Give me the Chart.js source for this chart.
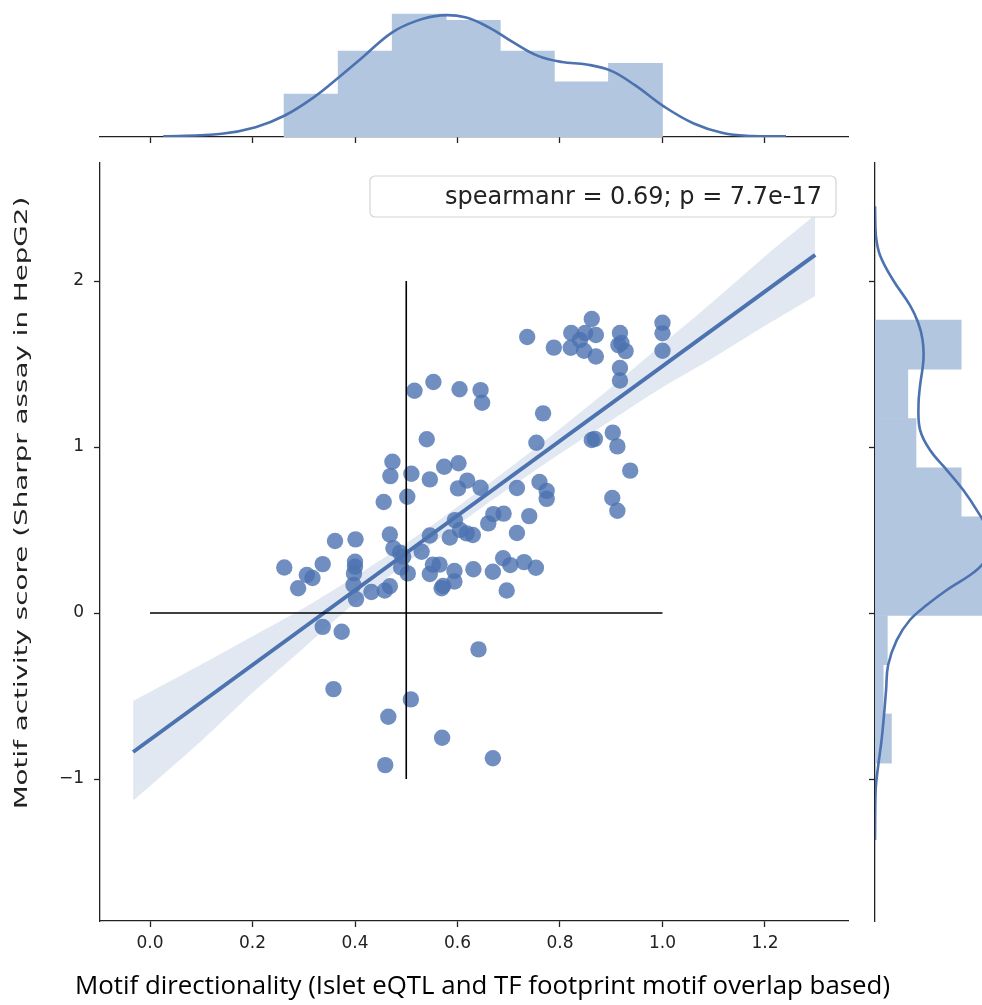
<!DOCTYPE html>
<html><head><meta charset="utf-8">
<script src="https://cdn.jsdelivr.net/npm/chart.js@4.4.1/dist/chart.umd.min.js"></script>
<style>
html,body{margin:0;padding:0;background:#fff;overflow:hidden;width:982px;height:1005px;}
canvas{position:absolute;}
#topc{left:0;top:0;}
#mainc{left:0;top:0;}
#rightc{left:860px;top:0;}
</style></head><body>
<canvas id="topc" width="982" height="150"></canvas>
<canvas id="mainc" width="982" height="1005"></canvas>
<canvas id="rightc" width="150" height="1005"></canvas>
<script>
// ---------- data ----------
const xTicks = [0, 0.2, 0.4, 0.6, 0.8, 1.0, 1.2];
const xTickLabels = ['0.0', '0.2', '0.4', '0.6', '0.8', '1.0', '1.2'];
const yTicks = [-1, 0, 1, 2];
const yTickLabels = ['\u22121', '0', '1', '2'];

const xVals = [0.736,0.788,0.822,0.821,0.839,0.849,0.862,0.870,0.847,0.870,0.917,0.914,0.928,0.920,0.917,0.917,1.0,1.0,1.0,
  0.516,0.553,0.604,0.645,0.648,0.767,0.540,0.754,0.862,0.868,0.903,0.912,0.937,0.902,0.912,
  0.473,0.469,0.510,0.546,0.574,0.602,0.601,0.619,0.645,0.716,0.760,0.774,0.774,0.740,0.456,0.502,0.690,0.670,
  0.716,0.660,0.595,0.605,0.618,0.630,0.585,0.546,0.468,0.475,0.488,0.494,0.530,0.361,0.401,0.400,0.400,0.398,
  0.397,0.402,0.432,0.458,0.468,0.503,0.490,0.262,0.306,0.317,0.337,0.289,0.552,0.565,0.546,0.594,0.594,0.572,
  0.569,0.631,0.669,0.689,0.703,0.730,0.753,0.696,
  0.337,0.374,0.641,0.358,0.509,0.465,0.570,0.459,0.669];
const yVals = [1.663,1.599,1.687,1.598,1.645,1.687,1.771,1.675,1.580,1.545,1.687,1.614,1.578,1.627,1.476,1.401,1.749,1.685,1.580,
  1.339,1.392,1.348,1.343,1.267,1.203,1.047,1.026,1.042,1.049,1.087,1.004,0.858,0.693,0.616,
  0.911,0.825,0.839,0.805,0.881,0.902,0.751,0.798,0.755,0.753,0.789,0.736,0.688,0.584,0.669,0.701,0.599,0.596,
  0.482,0.540,0.560,0.500,0.480,0.470,0.455,0.467,0.473,0.390,0.364,0.340,0.369,0.434,0.444,0.309,0.279,0.239,
  0.169,0.084,0.127,0.136,0.161,0.239,0.274,0.274,0.229,0.211,0.295,0.149,0.292,0.292,0.235,0.253,0.190,0.163,
  0.149,0.264,0.249,0.330,0.289,0.307,0.273,0.136,
  -0.083,-0.113,-0.219,-0.458,-0.520,-0.625,-0.751,-0.916,-0.875];

const regX = [-0.033, 1.298];
const regY = [-0.837, 2.157];
const bandX = [-0.033, 0.1, 0.2, 0.3, 0.4, 0.5, 0.6, 0.7, 0.8, 0.9, 1.0, 1.1, 1.2, 1.298];
const bandUpper = [-0.53, -0.31, -0.14, 0.03, 0.22, 0.42, 0.64, 0.87, 1.11, 1.36, 1.62, 1.88, 2.15, 2.40];
const bandLower = [-1.13, -0.77, -0.48, -0.21, 0.06, 0.30, 0.53, 0.75, 0.96, 1.16, 1.36, 1.54, 1.73, 1.91];

const hLineX = [0, 1], hLineY = [0, 0];
const vLineX = [0.5, 0.5], vLineY = [-1, 2];

const topBinCenters = [0.3143, 0.4198, 0.5253, 0.6308, 0.7363, 0.8418, 0.9473];
const topBinCounts = [7, 14, 20, 19, 14, 9, 12];
const topKdeX = [0.026,0.14,0.206,0.263,0.32,0.368,0.415,0.472,0.52,0.567,0.615,0.662,0.709,0.757,0.804,0.852,0.899,0.947,1.004,1.061,1.118,1.175,1.241];
const topKdeY = [0.1,0.54,1.6,3.5,6.5,9.7,13,17,18.9,19.8,19.5,17.8,15.4,13.2,12.2,11.8,10.8,8.4,4.9,2.2,0.65,0.16,0.1];

const rightBinCenters = [-0.756, -0.459, -0.163, 0.134, 0.431, 0.727, 1.024, 1.320, 1.617];
const rightBinCounts = [4, 2, 3, 27, 30, 21, 10, 8, 21];
const rightKdeY = [2.45,2.277,2.157,2.006,1.855,1.75,1.645,1.524,1.373,1.253,1.102,0.982,0.861,0.741,0.62,0.5,0.38,0.289,0.229,0.139,0.048,-0.042,-0.163,-0.313,-0.464,-0.614,-0.765,-0.916,-1.066,-1.367];
const rightKdeX = [0,0.2,1.2,4.4,8.5,10.5,11.6,11.8,11.0,10.6,11.0,13.4,17.5,21.5,24.8,27.5,28.5,26,23.2,17.5,12.6,8.5,5.3,3.2,2.7,2.2,1.6,0.8,0.15,0];

const statText = 'spearmanr = 0.69; p = 7.7e-17';
const xTitle = 'Motif directionality (Islet eQTL and TF footprint motif overlap based)';
const yTitle = 'Motif activity score (Sharpr assay in HepG2)';

// ---------- styling ----------
const BLUE = '#4c72b0';
const DARK = '#222222';
const HIST = 'rgb(178,198,223)';
const X_MIN = -0.0976, X_MAX = 1.362;
const Y_MIN = -1.855, Y_MAX = 2.711;
Chart.defaults.font.family = 'DejaVu Sans';
Chart.defaults.animation = false;

const pts = (xs, ys) => xs.map((x, i) => ({x: x, y: ys[i]}));

const overlay = {
  id: 'overlay',
  afterDraw(chart) {
    const {ctx, chartArea: a} = chart;
    ctx.save();
    // stat box (legend-like)
    const x0 = a.left + 270, y0 = a.top + 13, w = 466, h = 41;
    ctx.beginPath();
    ctx.roundRect(x0, y0, w, h, 5);
    ctx.fillStyle = 'rgba(255,255,255,0.85)';
    ctx.fill();
    ctx.strokeStyle = '#d4d4d4';
    ctx.lineWidth = 1.2;
    ctx.stroke();
    ctx.font = '24px "DejaVu Sans"';
    ctx.fillStyle = DARK;
    ctx.textAlign = 'right';
    ctx.textBaseline = 'middle';
    ctx.fillText(statText, x0 + w - 14, y0 + h / 2 + 1);
    ctx.restore();
    // y title (stretched along its length as in the reference)
    ctx.save();
    ctx.translate(22, 503);
    ctx.rotate(-Math.PI / 2);
    ctx.scale(1.5, 1);
    ctx.textAlign = 'center';
    ctx.textBaseline = 'middle';
    ctx.fillStyle = DARK;
    ctx.font = '18.5px "DejaVu Sans"';
    ctx.fillText(yTitle, 0, 0);
    ctx.restore();
    // x title (spans wider than the plot area in the reference)
    ctx.save();
    ctx.font = '25.5px "Open Sans"';
    const tw = ctx.measureText(xTitle).width;
    ctx.translate(482.5, a.bottom + 66);
    ctx.scale(815 / tw, 1);
    ctx.textAlign = 'center';
    ctx.textBaseline = 'middle';
    ctx.fillStyle = '#000';
    ctx.fillText(xTitle, 0, 0);
    ctx.restore();
  }
};

// ---------- main chart ----------
new Chart(document.getElementById('mainc'), {
  type: 'scatter',
  data: {
    datasets: [
      {type: 'line', data: pts(vLineX, vLineY), borderColor: '#000', borderWidth: 1.6, pointRadius: 0, fill: false},
      {type: 'line', data: pts(hLineX, hLineY), borderColor: '#000', borderWidth: 1.6, pointRadius: 0, fill: false},
      {type: 'line', data: pts(regX, regY), borderColor: BLUE, borderWidth: 4, pointRadius: 0, fill: false},
      {type: 'line', data: pts(bandX, bandUpper), borderWidth: 0, borderColor: 'rgba(0,0,0,0)', pointRadius: 0,
        fill: '+1', backgroundColor: 'rgba(76,114,176,0.16)', tension: 0.3},
      {type: 'line', data: pts(bandX, bandLower), borderWidth: 0, borderColor: 'rgba(0,0,0,0)', pointRadius: 0, fill: false, tension: 0.3},
      {type: 'scatter', data: pts(xVals, yVals), pointRadius: 8.2, pointHoverRadius: 8.2,
        backgroundColor: 'rgba(76,114,176,0.8)', borderWidth: 0}
    ]
  },
  options: {
    responsive: false,
    devicePixelRatio: 1,
    layout: {padding: {left: 0, top: 163, right: 134, bottom: 0}},
    plugins: {legend: {display: false}, tooltip: {enabled: false}},
    scales: {
      x: {
        type: 'linear', min: X_MIN, max: X_MAX,
        afterBuildTicks: s => { s.ticks = xTicks.map(v => ({value: v})); },
        afterFit: s => { s.height = 84; },
        grid: {drawOnChartArea: false, drawTicks: true, tickLength: 6, tickColor: DARK, tickWidth: 1.3},
        border: {display: true, color: DARK, width: 1.3},
        ticks: {color: DARK, font: {size: 17}, padding: 6, maxRotation: 0, autoSkip: false,
          callback: (v, i) => xTickLabels[i]},
        title: {display: false}
      },
      y: {
        type: 'linear', min: Y_MIN, max: Y_MAX,
        afterBuildTicks: s => { s.ticks = yTicks.map(v => ({value: v})); },
        afterFit: s => { s.width = 100; },
        grid: {drawOnChartArea: false, drawTicks: true, tickLength: 6, tickColor: DARK, tickWidth: 1.3},
        border: {display: true, color: DARK, width: 1.3},
        ticks: {color: DARK, font: {size: 17}, padding: 10, autoSkip: false,
          callback: (v, i) => yTickLabels[i]}
      }
    }
  },
  plugins: [overlay]
});

// ---------- top marginal ----------
new Chart(document.getElementById('topc'), {
  type: 'bar',
  data: {
    datasets: [
      {type: 'line', data: pts(topKdeX, topKdeY), borderColor: BLUE, borderWidth: 2.6, pointRadius: 0, tension: 0.4, fill: false},
      {type: 'bar', data: pts(topBinCenters, topBinCounts), backgroundColor: HIST, borderWidth: 0,
        barPercentage: 1, categoryPercentage: 1}
    ]
  },
  options: {
    responsive: false,
    devicePixelRatio: 1,
    layout: {padding: {left: 100, top: 0, right: 134, bottom: 0}},
    plugins: {legend: {display: false}, tooltip: {enabled: false}},
    scales: {
      x: {
        type: 'linear', min: X_MIN, max: X_MAX, offset: false,
        afterBuildTicks: s => { s.ticks = xTicks.map(v => ({value: v})); },
        afterFit: s => { s.height = 13; },
        grid: {drawOnChartArea: false, drawTicks: true, tickLength: 6, tickColor: DARK, tickWidth: 1.3, offset: false},
        border: {display: true, color: DARK, width: 1.3},
        ticks: {display: false}
      },
      y: {type: 'linear', min: 0, max: 22.3, display: false}
    }
  }
});

// ---------- right marginal ----------
new Chart(document.getElementById('rightc'), {
  type: 'bar',
  data: {
    datasets: [
      {type: 'line', data: pts(rightKdeX, rightKdeY), borderColor: BLUE, borderWidth: 2.6, pointRadius: 0, tension: 0.4, fill: false},
      {type: 'bar', data: pts(rightBinCounts, rightBinCenters), backgroundColor: HIST, borderWidth: 0,
        barPercentage: 1, categoryPercentage: 1}
    ]
  },
  options: {
    indexAxis: 'y',
    responsive: false,
    devicePixelRatio: 1,
    layout: {padding: {left: 0, top: 163, right: 0, bottom: 84}},
    plugins: {legend: {display: false}, tooltip: {enabled: false}},
    scales: {
      y: {
        type: 'linear', min: Y_MIN, max: Y_MAX, offset: false,
        afterBuildTicks: s => { s.ticks = yTicks.map(v => ({value: v})); },
        afterFit: s => { s.width = 15; },
        grid: {drawOnChartArea: false, drawTicks: true, tickLength: 6, tickColor: DARK, tickWidth: 1.3, offset: false},
        border: {display: true, color: DARK, width: 1.3},
        ticks: {display: false}
      },
      x: {type: 'linear', min: 0, max: 32.9, display: false}
    }
  }
});
</script>
</body></html>
